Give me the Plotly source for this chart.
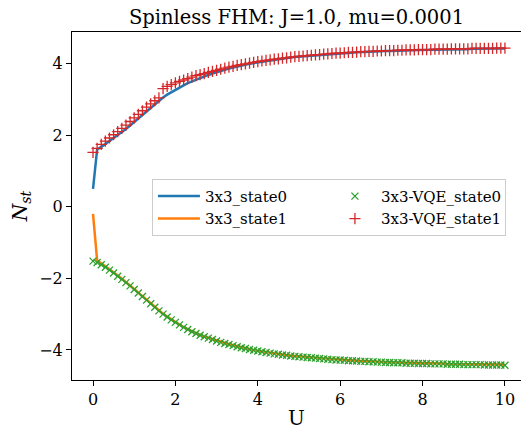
import plotly.graph_objects as go

# U grid (same for exact and VQE runs)
U = [0.0, 0.1, 0.2, 0.3, 0.4, 0.5, 0.6, 0.7, 0.8, 0.9,
     1.0, 1.1, 1.2, 1.3, 1.4, 1.5, 1.6, 1.7, 1.8, 1.9,
     2.0, 2.1, 2.2, 2.3, 2.4, 2.5, 2.6, 2.7, 2.8, 2.9,
     3.0, 3.1, 3.2, 3.3, 3.4, 3.5, 3.6, 3.7, 3.8, 3.9,
     4.0, 4.1, 4.2, 4.3, 4.4, 4.5, 4.6, 4.7, 4.8, 4.9,
     5.0, 5.1, 5.2, 5.3, 5.4, 5.5, 5.6, 5.7, 5.8, 5.9,
     6.0, 6.1, 6.2, 6.3, 6.4, 6.5, 6.6, 6.7, 6.8, 6.9,
     7.0, 7.1, 7.2, 7.3, 7.4, 7.5, 7.6, 7.7, 7.8, 7.9,
     8.0, 8.1, 8.2, 8.3, 8.4, 8.5, 8.6, 8.7, 8.8, 8.9,
     9.0, 9.1, 9.2, 9.3, 9.4, 9.5, 9.6, 9.7, 9.8, 9.9, 10.0]

state0 = [0.50, 1.60, 1.67, 1.75, 1.83, 1.91, 1.99, 2.08, 2.17, 2.27,
          2.37, 2.47, 2.57, 2.67, 2.77, 2.87, 2.96, 3.05, 3.13, 3.20,
          3.27, 3.33, 3.39, 3.45, 3.50, 3.55, 3.60, 3.64, 3.68, 3.72,
          3.76, 3.79, 3.83, 3.86, 3.89, 3.92, 3.94, 3.97, 3.99, 4.01,
          4.03, 4.05, 4.07, 4.09, 4.11, 4.12, 4.14, 4.15, 4.17, 4.18,
          4.19, 4.20, 4.21, 4.22, 4.23, 4.24, 4.25, 4.26, 4.27, 4.28,
          4.28, 4.29, 4.30, 4.30, 4.31, 4.32, 4.32, 4.33, 4.33, 4.34,
          4.34, 4.35, 4.35, 4.35, 4.36, 4.36, 4.37, 4.37, 4.37, 4.38,
          4.38, 4.38, 4.38, 4.39, 4.39, 4.39, 4.39, 4.40, 4.40, 4.40,
          4.40, 4.40, 4.41, 4.41, 4.41, 4.41, 4.41, 4.41, 4.42, 4.42, 4.42]

state1 = [-0.20, -1.50, -1.58, -1.66, -1.74, -1.83, -1.92, -2.01, -2.10, -2.20,
          -2.30, -2.40, -2.50, -2.60, -2.70, -2.80, -2.90, -2.99, -3.07, -3.15,
          -3.22, -3.29, -3.36, -3.42, -3.48, -3.53, -3.58, -3.62, -3.66, -3.70,
          -3.74, -3.78, -3.81, -3.84, -3.87, -3.90, -3.93, -3.95, -3.98, -4.00,
          -4.02, -4.04, -4.06, -4.08, -4.10, -4.11, -4.13, -4.14, -4.16, -4.17,
          -4.18, -4.19, -4.20, -4.21, -4.22, -4.23, -4.24, -4.25, -4.26, -4.27,
          -4.27, -4.28, -4.29, -4.29, -4.30, -4.31, -4.31, -4.32, -4.32, -4.33,
          -4.33, -4.34, -4.34, -4.35, -4.35, -4.35, -4.36, -4.36, -4.36, -4.37,
          -4.37, -4.37, -4.38, -4.38, -4.38, -4.38, -4.39, -4.39, -4.39, -4.39,
          -4.40, -4.40, -4.40, -4.40, -4.40, -4.41, -4.41, -4.41, -4.41, -4.41, -4.42]

vqe_state0 = [-1.52, -1.56, -1.62, -1.69, -1.77, -1.85, -1.94, -2.03, -2.12, -2.21,
              -2.31, -2.41, -2.51, -2.61, -2.71, -2.81, -2.91, -3.00, -3.08, -3.16,
              -3.23, -3.30, -3.37, -3.43, -3.49, -3.54, -3.59, -3.63, -3.67, -3.71,
              -3.75, -3.79, -3.82, -3.85, -3.88, -3.91, -3.94, -3.96, -3.99, -4.01,
              -4.03, -4.05, -4.07, -4.09, -4.11, -4.12, -4.14, -4.15, -4.17, -4.18,
              -4.19, -4.20, -4.21, -4.22, -4.23, -4.24, -4.25, -4.26, -4.27, -4.28,
              -4.28, -4.29, -4.30, -4.30, -4.31, -4.32, -4.32, -4.33, -4.33, -4.34,
              -4.34, -4.35, -4.35, -4.36, -4.36, -4.36, -4.37, -4.37, -4.37, -4.38,
              -4.38, -4.38, -4.39, -4.39, -4.39, -4.39, -4.40, -4.40, -4.40, -4.40,
              -4.41, -4.41, -4.41, -4.41, -4.41, -4.42, -4.42, -4.42, -4.42, -4.42, -4.43]

vqe_state1 = [1.52, 1.63, 1.74, 1.83, 1.92, 2.01, 2.10, 2.19, 2.28, 2.38,
              2.48, 2.58, 2.68, 2.78, 2.87, 2.96, 3.04, 3.30, 3.36, 3.41,
              3.46, 3.50, 3.54, 3.58, 3.62, 3.66, 3.69, 3.72, 3.75, 3.78,
              3.81, 3.84, 3.87, 3.90, 3.92, 3.95, 3.97, 3.99, 4.01, 4.03,
              4.05, 4.07, 4.09, 4.10, 4.12, 4.13, 4.15, 4.16, 4.18, 4.19,
              4.20, 4.21, 4.22, 4.23, 4.24, 4.25, 4.26, 4.27, 4.28, 4.29,
              4.29, 4.30, 4.31, 4.31, 4.32, 4.33, 4.33, 4.34, 4.34, 4.35,
              4.35, 4.36, 4.36, 4.36, 4.37, 4.37, 4.38, 4.38, 4.38, 4.39,
              4.39, 4.39, 4.39, 4.40, 4.40, 4.40, 4.40, 4.41, 4.41, 4.41,
              4.41, 4.41, 4.42, 4.42, 4.42, 4.42, 4.42, 4.42, 4.43, 4.43, 4.43]

y_ticks = [-4, -2, 0, 2, 4]
x_ticks = [0, 2, 4, 6, 8, 10]

FONT = "DejaVu Serif"

fig = go.Figure()

# exact curves first, VQE markers on top
fig.add_trace(go.Scatter(x=U, y=state0, mode='lines', name='3x3_state0',
                         line=dict(color='#1f77b4', width=2.5), legendrank=1))
fig.add_trace(go.Scatter(x=U, y=state1, mode='lines', name='3x3_state1',
                         line=dict(color='#ff7f0e', width=2.5), legendrank=3))
fig.add_trace(go.Scatter(x=U, y=vqe_state0, mode='markers', name='3x3-VQE_state0',
                         marker=dict(symbol='x-thin', size=7, color='#2ca02c',
                                     line=dict(color='#2ca02c', width=1.3)),
                         legendrank=2))
fig.add_trace(go.Scatter(x=U, y=vqe_state1, mode='markers', name='3x3-VQE_state1',
                         marker=dict(symbol='cross-thin', size=8, color='#d62728',
                                     line=dict(color='#d62728', width=1.3)),
                         legendrank=4))

axis_common = dict(showgrid=False, zeroline=False, showline=True, linecolor='black',
                   linewidth=1, ticks='outside', ticklen=5, tickcolor='black',
                   automargin=False,
                   tickfont=dict(family=FONT, size=16, color='black'))

fig.update_layout(
    width=522, height=428,
    margin=dict(l=72, r=1, t=32, b=48, autoexpand=False),
    paper_bgcolor='white', plot_bgcolor='white',
    title=dict(text='Spinless FHM: J=1.0, mu=0.0001', x=0.5, xref='paper', xanchor='center',
               y=1 - 17 / 428, yanchor='middle',
               font=dict(family=FONT, size=19.5, color='black')),
    xaxis=dict(axis_common, range=[-0.51, 10.39], tickvals=x_ticks, mirror=True),
    yaxis=dict(axis_common, range=[-4.84, 4.88], tickvals=y_ticks,
               title=dict(text='<i>N</i><sub><i>st</i></sub>', standoff=6,
                          font=dict(family=FONT, size=20, color='black'))),
    legend=dict(orientation='h', x=0.178, y=0.578, xanchor='left', yanchor='top',
                entrywidth=119, itemwidth=42, bgcolor='rgba(255,255,255,0.8)',
                bordercolor='#cccccc', borderwidth=1,
                font=dict(family=FONT, size=15, color='black')),
    showlegend=True,
)

# x-axis label placed a bit lower than plotly's default title slot
fig.add_annotation(text='U', xref='paper', yref='paper', x=0.5, y=0,
                   xanchor='center', yanchor='top', yshift=-25, borderpad=0,
                   showarrow=False, font=dict(family=FONT, size=20, color='black'))

# drop the browser's default 8px body margin so the figure sits at the page origin
fig.write_html("out.html", config={'displayModeBar': False},
               post_script="document.body.style.margin='0';")
